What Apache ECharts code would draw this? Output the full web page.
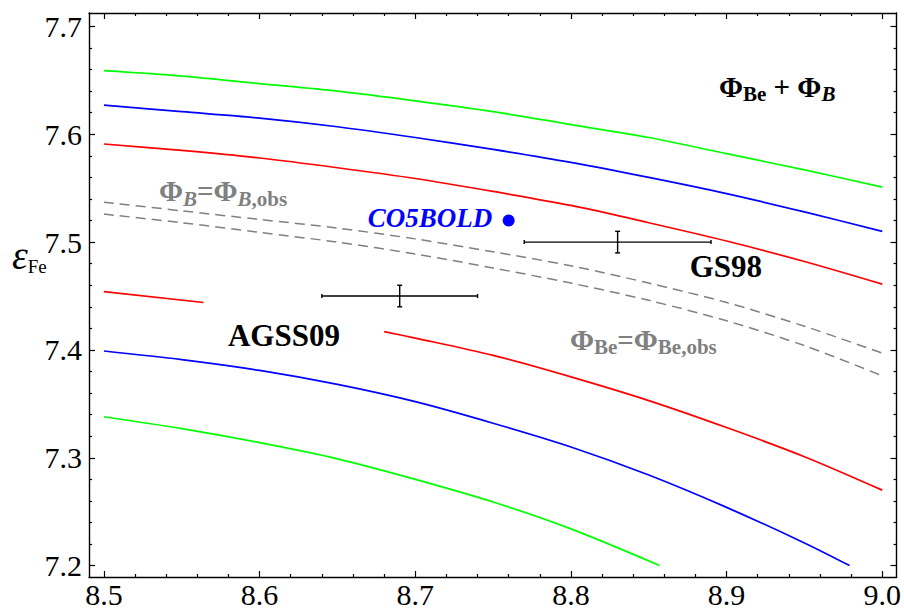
<!DOCTYPE html>
<html><head><meta charset="utf-8">
<script src="https://cdn.jsdelivr.net/npm/echarts@6/dist/echarts.min.js"></script>
<style>html,body{margin:0;padding:0;background:#fff}#c{width:904px;height:609px}</style>
</head><body><div id="c"></div>
<script>
// ---- tick labels ----
const xTicks = [8.5, 8.6, 8.7, 8.8, 8.9, 9.0];
const yTicks = [7.2, 7.3, 7.4, 7.5, 7.6, 7.7];

// ---- curves (x, epsilon_Fe) ----
const greenTop = [[8.5,7.659],[8.55,7.654],[8.6,7.647],[8.65,7.640],[8.7,7.631],[8.75,7.621],[8.8,7.609],[8.85,7.597],[8.9,7.582],[8.95,7.567],[9.0,7.551]];
const blueTop  = [[8.5,7.627],[8.55,7.621],[8.6,7.615],[8.65,7.607],[8.7,7.597],[8.75,7.586],[8.8,7.574],[8.85,7.560],[8.9,7.545],[8.95,7.528],[9.0,7.510]];
const redTop   = [[8.5,7.591],[8.55,7.585],[8.6,7.578],[8.65,7.569],[8.7,7.559],[8.75,7.547],[8.8,7.534],[8.85,7.518],[8.9,7.501],[8.95,7.482],[9.0,7.461]];
const dashB    = [[8.5,7.537],[8.55,7.529],[8.6,7.521],[8.65,7.513],[8.7,7.503],[8.75,7.491],[8.8,7.478],[8.85,7.462],[8.9,7.444],[8.95,7.422],[9.0,7.397]];
const dashBe   = [[8.5,7.526],[8.55,7.518],[8.6,7.509],[8.65,7.500],[8.7,7.489],[8.75,7.476],[8.8,7.462],[8.85,7.446],[8.9,7.427],[8.95,7.404],[9.0,7.376]];
const redLowA  = [[8.5,7.454],[8.564,7.444]];
const redLowB  = [[8.68,7.417],[8.7,7.411],[8.75,7.395],[8.8,7.375],[8.85,7.353],[8.9,7.328],[8.95,7.301],[9.0,7.270]];
const blueLow  = [[8.5,7.399],[8.55,7.391],[8.6,7.381],[8.65,7.368],[8.7,7.352],[8.75,7.332],[8.8,7.310],[8.85,7.284],[8.9,7.254],[8.95,7.221],[8.979,7.200]];
const greenLow = [[8.5,7.338],[8.55,7.327],[8.6,7.314],[8.65,7.299],[8.7,7.280],[8.75,7.259],[8.8,7.234],[8.857,7.200]];

// ---- measurements: [x, y, xErr, yErr] ----
const errNames = ['GS98', 'AGSS09'];
const errData  = [[8.83, 7.50, 0.06, 0.01], [8.69, 7.45, 0.05, 0.01]];
const co5bold  = [[8.76, 7.52]];

// ---- annotations ----
const annoKeys = ['sum', 'gs98', 'agss09', 'co5', 'phiB', 'phiBe'];
const annoX    = [8.9325, 8.8995, 8.6156, 8.7094, 8.5765, 8.8465];
const annoY    = [7.644, 7.477, 7.4136, 7.5224, 7.547, 7.4095];
const annoText = [
  '{p|Φ}{ps|Be}{p| + Φ}{pi|B}',
  '{b|GS98}',
  '{b|AGSS09}',
  '{c|CO5BOLD}',
  '{g|Φ}{gi|B}{g|=Φ}{gi|B}{gs|,obs}',
  '{g|Φ}{gs|Be}{g|=Φ}{gs|Be,obs}'
];

const SERIF = 'Liberation Serif';
const minorOf = (lo, hi, step, majors) => {
  const out = [];
  for (let v = lo; v <= hi + 1e-9; v += step) {
    const r = Math.round(v * 100) / 100;
    if (!majors.some(m => Math.abs(m - r) < 1e-6)) out.push(r);
  }
  return out;
};
const xMinor = minorOf(8.5, 9.0, 0.02, xTicks);
const yMinor = minorOf(7.2, 7.7, 0.02, yTicks);

const XMIN = 8.4904, XMAX = 9.0092, YMIN = 7.1894, YMAX = 7.7125;
const axisLineStyle = { color: '#000', width: 1.4 };
const tickRich = { t: { fontFamily: SERIF, fontSize: 30, color: '#000', lineHeight: 32 } };

function mkX(pos, vals, len, showLine, labels) {
  return {
    type: 'value', position: pos, min: XMIN, max: XMAX,
    axisLine: { show: showLine, onZero: false, lineStyle: axisLineStyle },
    axisTick: { show: true, inside: true, length: len, customValues: vals, lineStyle: { color: '#000', width: 1.2 } },
    axisLabel: labels ? { show: true, customValues: vals, margin: 1, fontFamily: SERIF, fontSize: 30, color: '#000',
      rich: tickRich, formatter: v => '{t|' + v.toFixed(1) + '}' } : { show: false },
    splitLine: { show: false }
  };
}
function mkY(pos, vals, len, showLine, labels) {
  return {
    type: 'value', position: pos, min: YMIN, max: YMAX,
    axisLine: { show: showLine, onZero: false, lineStyle: axisLineStyle },
    axisTick: { show: true, inside: true, length: len, customValues: vals, lineStyle: { color: '#000', width: 1.2 } },
    axisLabel: labels ? { show: true, customValues: vals, margin: 7, fontFamily: SERIF, fontSize: 30, color: '#000',
      rich: tickRich, formatter: v => '{t|' + v.toFixed(1) + '}' } : { show: false },
    splitLine: { show: false }
  };
}

function lineSeries(data, color, dashed) {
  return {
    type: 'line', data: data, xAxisIndex: 0, yAxisIndex: 0, showSymbol: false, smooth: 0.3,
    lineStyle: { color: color, width: dashed ? 1.5 : 1.7, type: dashed ? [10, 6] : 'solid', opacity: 1 },
    silent: true, z: 3
  };
}

const richStyles = {
  p:  { fontFamily: SERIF, fontWeight: 'bold', fontSize: 29, color: '#000', lineHeight: 36 },
  ps: { fontFamily: SERIF, fontWeight: 'bold', fontSize: 21, color: '#000', lineHeight: 21, verticalAlign: 'bottom' },
  pi: { fontFamily: SERIF, fontWeight: 'bold', fontStyle: 'italic', fontSize: 21, color: '#000', lineHeight: 21, verticalAlign: 'bottom' },
  b:  { fontFamily: SERIF, fontWeight: 'bold', fontSize: 31, color: '#000' },
  c:  { fontFamily: SERIF, fontWeight: 'bold', fontStyle: 'italic', fontSize: 27, color: '#0000ff' },
  g:  { fontFamily: SERIF, fontWeight: 'bold', fontSize: 29, color: '#808080', lineHeight: 36 },
  gs: { fontFamily: SERIF, fontWeight: 'bold', fontSize: 21, color: '#808080', lineHeight: 21, verticalAlign: 'bottom' },
  gi: { fontFamily: SERIF, fontWeight: 'bold', fontStyle: 'italic', fontSize: 21, color: '#808080', lineHeight: 21, verticalAlign: 'bottom' }
};

const chart = echarts.init(document.getElementById('c'), null, { renderer: 'svg' });
chart.setOption({
  animation: false,
  backgroundColor: '#fff',
  textStyle: { fontFamily: SERIF },
  grid: { left: 89, right: 7, top: 13, bottom: 29, containLabel: false },
  xAxis: [
    mkX('bottom', xTicks, 6, true, true),
    mkX('bottom', xMinor, 3, false, false),
    mkX('top', xTicks, 6, true, false),
    mkX('top', xMinor, 3, false, false)
  ],
  yAxis: [
    mkY('left', yTicks, 6, true, true),
    mkY('left', yMinor, 3, false, false),
    mkY('right', yTicks, 6, true, false),
    mkY('right', yMinor, 3, false, false)
  ],
  graphic: [{
    type: 'text', left: 12, top: 235,
    style: { rich: {
        e: { fontFamily: SERIF, fontStyle: 'italic', fontSize: 40, fill: '#000', lineHeight: 42 },
        f: { fontFamily: SERIF, fontSize: 19, fill: '#000', lineHeight: 22, verticalAlign: 'bottom' }
      }, text: '{e|ε}{f|Fe}' }
  }],
  series: [
    lineSeries(greenTop, '#00ff00'),
    lineSeries(blueTop, '#0000ff'),
    lineSeries(redTop, '#ff0000'),
    lineSeries(dashB, '#808080', true),
    lineSeries(dashBe, '#808080', true),
    lineSeries(redLowA, '#ff0000'),
    lineSeries(redLowB, '#ff0000'),
    lineSeries(blueLow, '#0000ff'),
    lineSeries(greenLow, '#00ff00'),
    {
      type: 'custom', name: 'errors', xAxisIndex: 0, yAxisIndex: 0, z: 4, silent: true,
      data: errData,
      renderItem: function (params, api) {
        const x = api.value(0), y = api.value(1), dx = api.value(2), dy = api.value(3);
        const l = api.coord([x - dx, y]), r = api.coord([x + dx, y]);
        const t = api.coord([x, y + dy]), b = api.coord([x, y - dy]);
        const st = { stroke: '#000', lineWidth: 1.4 };
        const cv = 2, ch = 2.5;
        return { type: 'group', children: [
          { type: 'line', shape: { x1: l[0], y1: l[1], x2: r[0], y2: r[1] }, style: st },
          { type: 'line', shape: { x1: l[0], y1: l[1] - cv, x2: l[0], y2: l[1] + cv }, style: st },
          { type: 'line', shape: { x1: r[0], y1: r[1] - cv, x2: r[0], y2: r[1] + cv }, style: st },
          { type: 'line', shape: { x1: t[0], y1: t[1], x2: b[0], y2: b[1] }, style: st },
          { type: 'line', shape: { x1: t[0] - ch, y1: t[1], x2: t[0] + ch, y2: t[1] }, style: st },
          { type: 'line', shape: { x1: b[0] - ch, y1: b[1], x2: b[0] + ch, y2: b[1] }, style: st }
        ]};
      }
    },
    {
      type: 'scatter', name: 'CO5BOLD', data: co5bold, xAxisIndex: 0, yAxisIndex: 0,
      symbol: 'circle', symbolSize: 12, itemStyle: { color: '#0000ff', opacity: 1 }, z: 5, silent: true
    },
    {
      type: 'scatter', name: 'labels', xAxisIndex: 0, yAxisIndex: 0, symbolSize: 0, silent: true, z: 6,
      itemStyle: { opacity: 1 },
      data: annoKeys.map((k, i) => ({
        value: [annoX[i], annoY[i]],
        label: { show: true, position: 'inside', align: 'center', verticalAlign: 'middle', opacity: 1,
          formatter: annoText[i], rich: richStyles }
      }))
    }
  ]
});
</script></body></html>
